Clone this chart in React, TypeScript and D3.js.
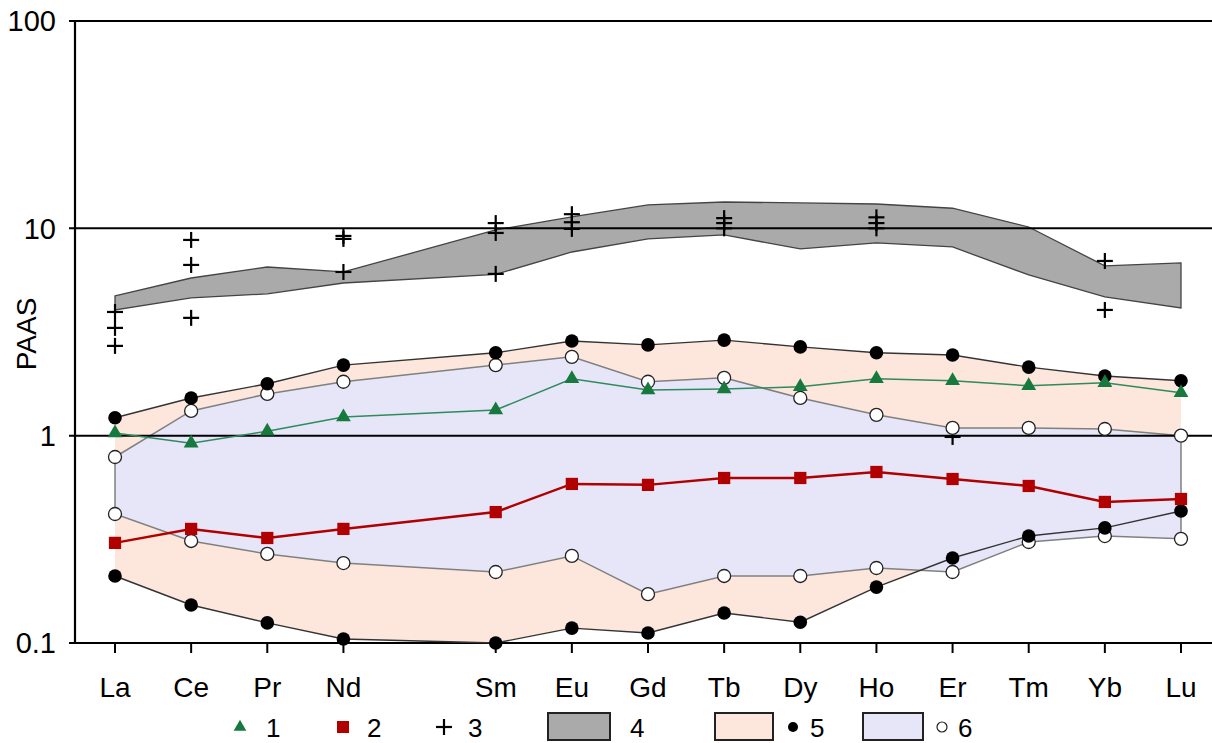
import React from "react";
import * as d3 from "d3";

const elements = ["La", "Ce", "Pr", "Nd", "Sm", "Eu", "Gd", "Tb", "Dy", "Ho", "Er", "Tm", "Yb", "Lu"];
const atomicNumbers = [57, 58, 59, 60, 62, 63, 64, 65, 66, 67, 68, 69, 70, 71];
const yTicks = [0.1, 1, 10, 100];
const yTickLabels = ["0.1", "1", "10", "100"];

// series 1 (green triangles)
const series1 = [1.03, 0.92, 1.05, 1.23, 1.33, 1.88, 1.66, 1.68, 1.72, 1.88, 1.84, 1.74, 1.8, 1.61];
// series 2 (red squares)
const series2 = [0.304, 0.355, 0.321, 0.355, 0.428, 0.585, 0.579, 0.625, 0.625, 0.668, 0.618, 0.572, 0.479, 0.495];
// series 3 (crosses)
const crossEl = ["La", "La", "La", "Ce", "Ce", "Ce", "Nd", "Nd", "Nd", "Sm", "Sm", "Sm", "Eu", "Eu", "Eu", "Tb", "Tb", "Tb", "Ho", "Ho", "Ho", "Er", "Yb", "Yb"];
const crossVal = [3.95, 3.31, 2.71, 8.79, 6.66, 3.7, 9.19, 8.89, 6.16, 10.6, 9.5, 6.03, 11.7, 10.7, 9.94, 11.2, 10.6, 10.0, 11.3, 10.6, 10.0, 0.986, 6.96, 4.04];
// series 4 (gray band)
const band4Upper = [4.72, 5.76, 6.51, 6.16, 9.83, 11.35, 12.97, 13.4, 13.26, 13.1, 12.5, 10.15, 6.59, 6.81];
const band4Lower = [4.04, 4.62, 4.83, 5.45, 6.0, 7.69, 8.89, 9.29, 7.96, 8.5, 8.13, 5.96, 4.67, 4.13];
// series 5 (black dots, pink band)
const upper5 = [1.22, 1.52, 1.78, 2.19, 2.51, 2.86, 2.74, 2.89, 2.68, 2.51, 2.45, 2.14, 1.94, 1.84];
const lower5 = [0.2105, 0.1525, 0.125, 0.1045, 0.1, 0.118, 0.1117, 0.1395, 0.126, 0.186, 0.257, 0.328, 0.359, 0.433];
// series 6 (open circles, blue band)
const upper6 = [0.789, 1.316, 1.59, 1.82, 2.19, 2.4, 1.82, 1.9, 1.52, 1.26, 1.09, 1.09, 1.077, 1.0];
const lower6 = [0.419, 0.3105, 0.269, 0.243, 0.22, 0.263, 0.172, 0.2105, 0.2105, 0.23, 0.22, 0.307, 0.328, 0.318];

const legendLabels = ["1", "2", "3", "4", "5", "6"];

const W = 1212;
const H = 743;
const FONT = "Arimo, 'Liberation Sans', Arial, Helvetica, sans-serif";

const GREEN = "#17793d";
const GREEN_LINE = "#2f8a5e";
const RED = "#b10000";
const PINK = "#fde6dc";
const BLUE = "#e6e6f8";
const GRAY = "#aaaaaa";

export default function App() {
  const x = d3.scaleLinear().domain([57, 71]).range([115, 1181]);
  const y = d3.scaleLog().domain([0.1, 100]).range([643, 21]);
  const xOf = (el: string) => x(atomicNumbers[elements.indexOf(el)]);

  const pts = (vals: number[]) => vals.map((v, i) => [x(atomicNumbers[i]), y(v)] as [number, number]);
  const line = d3.line();
  const bandPath = (up: number[], lo: number[]) => {
    const a = pts(up);
    const b = pts(lo).reverse();
    return line([...a, ...b]) + "Z";
  };

  const xLeft = 75;
  const xRight = W;
  const triangle = d3.symbol().type(d3.symbolTriangle).size(95)();
  const square = d3.symbol().type(d3.symbolSquare).size(150)();

  const cross = (cx: number, cy: number, s: number, key: string) => (
    <g key={key} stroke="#000" strokeWidth={2.2}>
      <line x1={cx - s} x2={cx + s} y1={cy} y2={cy} />
      <line x1={cx} x2={cx} y1={cy - s} y2={cy + s} />
    </g>
  );

  const legY = 727;

  return (
    <svg width={W} height={H} style={{ position: "absolute", left: 0, top: 0, background: "#fff" }} fontFamily={FONT}>
      <rect width={W} height={H} fill="#fff" />
      {/* gray band */}
      <path d={bandPath(band4Upper, band4Lower)} fill={GRAY} stroke="#444" strokeWidth={1.3} />
      {/* pink band */}
      <path d={bandPath(upper5, lower5)} fill={PINK} stroke="none" />
      {/* blue band */}
      <path d={bandPath(upper6, lower6)} fill={BLUE} stroke="#808080" strokeWidth={1.5} />

      {/* frame and grid */}
      {yTicks.map((t) => (
        <line key={"g" + t} x1={69} x2={xRight} y1={y(t)} y2={y(t)} stroke="#000" strokeWidth={2} />
      ))}
      <line x1={xLeft} x2={xLeft} y1={y(100)} y2={y(0.1)} stroke="#000" strokeWidth={2.2} />
      {atomicNumbers.map((a, i) => (
        <line key={"xt" + i} x1={x(a)} x2={x(a)} y1={y(0.1)} y2={y(0.1) + 10} stroke="#000" strokeWidth={2} />
      ))}
      {yTicks.map((t, i) => (
        <text key={"yl" + t} x={56} y={y(t)} dy="0.36em" textAnchor="end" fontSize={29} fill="#000">
          {yTickLabels[i]}
        </text>
      ))}
      {elements.map((e, i) => (
        <text key={"xl" + e} x={x(atomicNumbers[i])} y={697} textAnchor="middle" fontSize={28} fill="#000">
          {e}
        </text>
      ))}
      <text transform={`translate(36,334) rotate(-90)`} textAnchor="middle" fontSize={28} fill="#000">
        PAAS
      </text>

      {/* crosses */}
      {crossEl.map((el, i) => cross(xOf(el), y(crossVal[i]), 8, "c" + i))}

      {/* lines */}
      <path d={line(pts(upper5))!} fill="none" stroke="#333" strokeWidth={1.4} />
      <path d={line(pts(lower5))!} fill="none" stroke="#333" strokeWidth={1.4} />
      <path d={line(pts(series1))!} fill="none" stroke={GREEN_LINE} strokeWidth={1.5} />
      <path d={line(pts(series2))!} fill="none" stroke={RED} strokeWidth={2.5} />

      {/* markers */}
      {pts(upper6).concat(pts(lower6)).map(([px, py], i) => (
        <circle key={"o" + i} cx={px} cy={py} r={6.5} fill="#fff" stroke="#222" strokeWidth={1.3} />
      ))}
      {pts(upper5).concat(pts(lower5)).map(([px, py], i) => (
        <circle key={"b" + i} cx={px} cy={py} r={6.8} fill="#000" />
      ))}
      {pts(series1).map(([px, py], i) => (
        <path key={"t" + i} d={triangle!} transform={`translate(${px},${py})`} fill={GREEN} />
      ))}
      {pts(series2).map(([px, py], i) => (
        <path key={"s" + i} d={square!} transform={`translate(${px},${py})`} fill={RED} />
      ))}

      {/* legend */}
      <path d={d3.symbol().type(d3.symbolTriangle).size(70)()!} transform={`translate(240,${legY})`} fill={GREEN} />
      <text x={266} y={737} fontSize={26}>{legendLabels[0]}</text>
      <rect x={337} y={legY - 6} width={12} height={12} fill={RED} />
      <text x={367} y={737} fontSize={26}>{legendLabels[1]}</text>
      {cross(444, legY, 8, "lc")}
      <text x={468} y={737} fontSize={26}>{legendLabels[2]}</text>
      <rect x={548} y={713} width={62} height={27} fill={GRAY} stroke="#222" strokeWidth={2} />
      <text x={630} y={737} fontSize={26}>{legendLabels[3]}</text>
      <rect x={715} y={713} width={58} height={27} fill={PINK} stroke="#222" strokeWidth={2} />
      <circle cx={793} cy={legY} r={5} fill="#000" />
      <text x={810} y={737} fontSize={26}>{legendLabels[4]}</text>
      <rect x={863} y={713} width={60} height={27} fill={BLUE} stroke="#222" strokeWidth={2} />
      <circle cx={942} cy={legY} r={5} fill="#fff" stroke="#222" strokeWidth={1.2} />
      <text x={958} y={737} fontSize={26}>{legendLabels[5]}</text>
    </svg>
  );
}
